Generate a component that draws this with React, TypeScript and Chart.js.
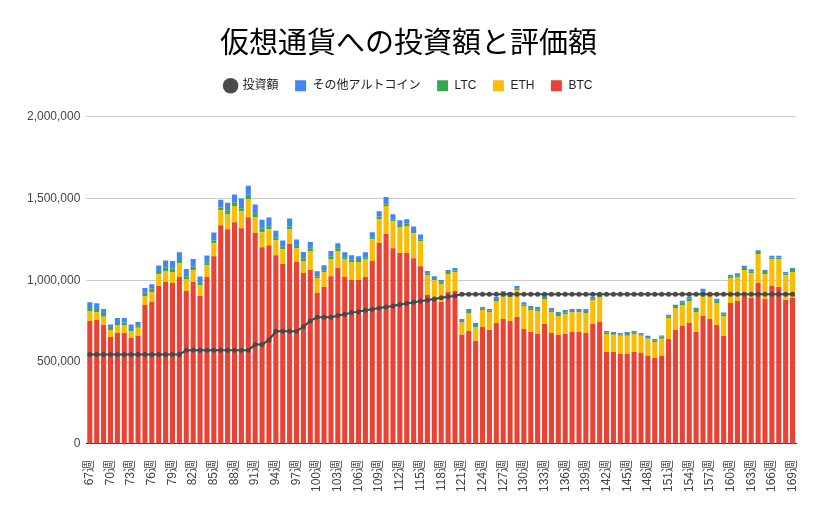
import React, { useEffect, useRef } from "react";
import { Chart, registerables } from "chart.js";

Chart.register(...registerables);

const weeks: number[] = Array.from({ length: 103 }, (_, i) => 67 + i);
const categories: string[] = weeks.map((w) => `${w}週`);

const btc: number[] = [
  752000, 758000, 728000, 654000, 679000, 679000, 648000, 661000, 850000, 868000,
  965000, 990000, 984000, 1020000, 935000, 990000, 904000, 1020000, 1148000, 1337000,
  1313000, 1356000, 1319000, 1386000, 1289000, 1203000, 1215000, 1154000, 1100000, 1222000,
  1112000, 1045000, 1063000, 923000, 959000, 1026000, 1075000, 1020000, 1002000, 1002000,
  1020000, 1118000, 1228000, 1283000, 1197000, 1167000, 1167000, 1136000, 1087000, 911000,
  886000, 868000, 929000, 935000, 667000, 691000, 630000, 715000, 697000, 740000,
  764000, 752000, 776000, 703000, 685000, 673000, 734000, 679000, 667000, 673000,
  685000, 685000, 679000, 734000, 746000, 563000, 563000, 551000, 551000, 563000,
  557000, 539000, 526000, 539000, 642000, 697000, 722000, 740000, 685000, 783000,
  764000, 728000, 661000, 862000, 874000, 909000, 892000, 984000, 886000, 965000,
  959000, 880000, 892000,
];

const eth: number[] = [
  61000, 49000, 49000, 43000, 49000, 49000, 43000, 49000, 55000, 61000,
  73000, 67000, 67000, 85000, 73000, 73000, 67000, 73000, 79000, 91000,
  91000, 98000, 104000, 110000, 98000, 91000, 98000, 91000, 91000, 91000,
  85000, 73000, 116000, 91000, 91000, 104000, 104000, 110000, 110000, 110000,
  110000, 134000, 146000, 171000, 165000, 159000, 165000, 152000, 152000, 122000,
  116000, 110000, 110000, 116000, 79000, 110000, 85000, 104000, 110000, 134000,
  146000, 146000, 165000, 140000, 134000, 140000, 152000, 128000, 116000, 122000,
  122000, 122000, 122000, 146000, 152000, 110000, 104000, 110000, 110000, 110000,
  104000, 104000, 98000, 104000, 128000, 134000, 128000, 134000, 122000, 128000,
  140000, 134000, 122000, 152000, 146000, 154000, 152000, 177000, 152000, 165000,
  171000, 152000, 159000,
];

const ltc: number[] = [
  18000, 18000, 18000, 12000, 12000, 14000, 12000, 12000, 20000, 20000,
  20000, 24000, 22000, 26000, 18000, 20000, 18000, 18000, 18000, 18000,
  24000, 24000, 18000, 28000, 24000, 24000, 18000, 18000, 14000, 18000,
  18000, 18000, 18000, 12000, 12000, 16000, 18000, 12000, 14000, 12000,
  12000, 12000, 16000, 12000, 12000, 12000, 14000, 14000, 12000, 8000,
  6000, 10000, 12000, 10000, 6000, 6000, 12000, 8000, 8000, 6000,
  10000, 8000, 10000, 10000, 10000, 8000, 14000, 8000, 12000, 10000,
  6000, 6000, 12000, 8000, 6000, 8000, 12000, 8000, 12000, 8000,
  8000, 4000, 8000, 12000, 10000, 12000, 14000, 16000, 12000, 20000,
  10000, 14000, 10000, 8000, 12000, 12000, 12000, 12000, 14000, 10000,
  10000, 10000, 12000,
];

const altcoins: number[] = [
  35000, 35000, 30000, 22000, 30000, 28000, 28000, 24000, 28000, 28000,
  33000, 41000, 45000, 41000, 43000, 47000, 35000, 41000, 47000, 47000,
  47000, 47000, 59000, 55000, 53000, 53000, 53000, 41000, 39000, 47000,
  35000, 37000, 37000, 30000, 30000, 33000, 30000, 30000, 28000, 24000,
  30000, 30000, 33000, 43000, 30000, 30000, 28000, 28000, 30000, 16000,
  18000, 14000, 12000, 14000, 12000, 18000, 12000, 10000, 10000, 18000,
  14000, 22000, 14000, 14000, 14000, 16000, 18000, 16000, 12000, 14000,
  12000, 12000, 12000, 12000, 14000, 10000, 6000, 10000, 12000, 10000,
  10000, 14000, 10000, 8000, 10000, 8000, 12000, 10000, 14000, 18000,
  10000, 12000, 10000, 12000, 12000, 14000, 12000, 12000, 12000, 10000,
  10000, 10000, 12000,
];

const investment: number[] = [
  547000, 547000, 547000, 547000, 547000, 547000, 547000, 547000, 547000, 547000,
  547000, 547000, 547000, 547000, 573000, 573000, 573000, 573000, 573000, 573000,
  573000, 573000, 573000, 573000, 608000, 608000, 636000, 689000, 689000, 689000,
  689000, 717000, 752000, 774000, 774000, 774000, 785000, 793000, 803000, 809000,
  817000, 823000, 831000, 837000, 843000, 852000, 858000, 866000, 872000, 880000,
  886000, 894000, 900000, 906000, 915000, 915000, 915000, 915000, 915000, 915000,
  915000, 915000, 915000, 915000, 915000, 915000, 915000, 915000, 915000, 915000,
  915000, 915000, 915000, 915000, 915000, 915000, 915000, 915000, 915000, 915000,
  915000, 915000, 915000, 915000, 915000, 915000, 915000, 915000, 915000, 915000,
  915000, 915000, 915000, 915000, 915000, 915000, 915000, 915000, 915000, 915000,
  915000, 915000, 915000,
];

const yTicks: number[] = [0, 500000, 1000000, 1500000, 2000000];

const FONT = "'Liberation Sans', Arial, 'Noto Sans CJK JP', sans-serif";

export default function App() {
  const ref = useRef<HTMLCanvasElement | null>(null);

  useEffect(() => {
    if (!ref.current) return;
    const barCommon = {
      type: "bar" as const,
      order: 1,
      barPercentage: 0.74,
      categoryPercentage: 1.0,
      pointStyle: "rect" as const,
      borderWidth: 0,
    };
    const defaultGen = (Chart as any).defaults.plugins.legend.labels.generateLabels;
    const chart = new Chart(ref.current, {
      type: "bar",
      data: {
        labels: categories,
        datasets: [
          { ...barCommon, label: "BTC", data: btc, backgroundColor: "#ea4335" },
          { ...barCommon, label: "ETH", data: eth, backgroundColor: "#fbbc04" },
          { ...barCommon, label: "LTC", data: ltc, backgroundColor: "#34a853" },
          { ...barCommon, label: "その他アルトコイン", data: altcoins, backgroundColor: "#4285f4" },
          {
            type: "line" as const,
            label: "投資額",
            data: investment,
            order: 0,
            stack: "invest",
            borderColor: "#434343",
            backgroundColor: "#434343",
            borderWidth: 2,
            pointRadius: 2.5,
            pointBackgroundColor: "#4a4a4a",
            pointBorderColor: "#4a4a4a",
            pointBorderWidth: 0,
            pointStyle: "circle" as const,
            tension: 0,
          } as any,
        ],
      },
      options: {
        responsive: false,
        animation: false,
        devicePixelRatio: 1,
        layout: { padding: { top: 28, left: 21, right: 26, bottom: 8 } },
        plugins: {
          title: {
            display: true,
            text: "仮想通貨への投資額と評価額",
            color: "#000000",
            font: { family: FONT, size: 29, weight: "normal" },
            padding: { top: 0, bottom: 1 },
          },
          subtitle: {
            display: true,
            text: " ",
            weight: 500,
            font: { size: 10 },
            padding: { top: 0, bottom: 3 },
          },
          legend: {
            display: true,
            position: "top",
            labels: {
              usePointStyle: true,
              boxHeight: 11,
              color: "#222222",
              font: { family: FONT, size: 12 },
              padding: 16,
              sort: (a: any, b: any) => b.datasetIndex - a.datasetIndex,
              generateLabels: (c: any) =>
                defaultGen(c).map((it: any) => ({ ...it, lineWidth: 0 })),
            },
          },
          tooltip: { enabled: false },
        },
        scales: {
          x: {
            stacked: true,
            grid: { display: false },
            border: { display: true, color: "#333333", width: 1 },
            ticks: {
              autoSkip: false,
              minRotation: 90,
              maxRotation: 90,
              padding: 8,
              color: "#444444",
              font: { family: FONT, size: 12 },
              callback: (_v: any, i: number) => (i % 3 === 0 ? categories[i] : ""),
            },
          },
          y: {
            stacked: true,
            min: 0,
            max: 2000000,
            afterBuildTicks: (axis: any) => {
              axis.ticks = yTicks.map((v) => ({ value: v }));
            },
            grid: { color: "#cccccc", drawTicks: false },
            border: { display: false },
            ticks: {
              padding: 6,
              color: "#444444",
              font: { family: FONT, size: 12 },
              callback: (v: any) => Number(v).toLocaleString("en-US"),
            },
          },
        },
      },
    } as any);
    return () => chart.destroy();
  }, []);

  return (
    <div style={{ position: "fixed", left: 0, top: 0, width: 822, height: 508, background: "#ffffff" }}>
      <canvas ref={ref} width={822} height={508} style={{ width: 822, height: 508 }} />
    </div>
  );
}
